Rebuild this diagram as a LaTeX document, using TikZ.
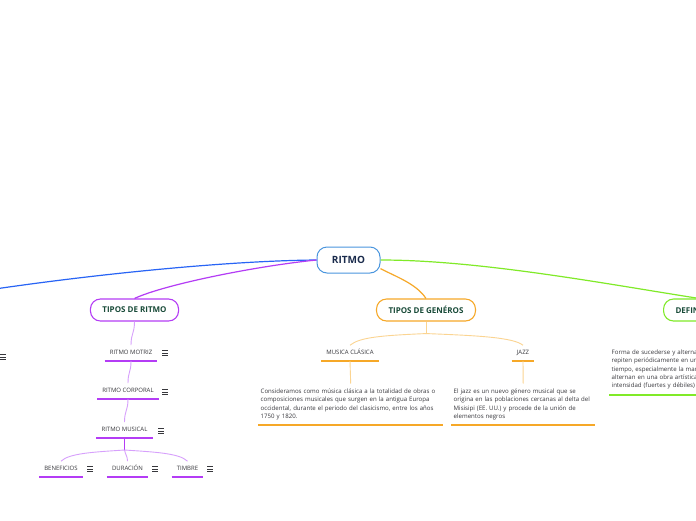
\documentclass[tikz,border=0pt]{standalone}
\usepackage{fontspec}
\setmainfont{Open Sans}
\usetikzlibrary{positioning}
\definecolor{navy}{RGB}{26,43,76}
\definecolor{rootblue}{RGB}{74,150,222}
\definecolor{linkblue}{RGB}{40,100,245}
\definecolor{violet}{RGB}{180,60,245}
\definecolor{lightviolet}{RGB}{215,160,252}
\definecolor{amber}{RGB}{246,168,40}
\definecolor{lightamber}{RGB}{251,212,145}
\definecolor{lime}{RGB}{128,234,40}
\definecolor{pine}{RGB}{24,74,56}
\definecolor{inkgray}{RGB}{55,55,60}
\tikzset{
  root/.style={draw=rootblue,line width=1pt,rounded corners=10pt,fill=white,minimum width=63pt,minimum height=26pt,font=\fontsize{10}{12}\selectfont\bfseries,text=navy},
  topic/.style={line width=1.1pt,rounded corners=10pt,fill=white,minimum height=22pt,inner xsep=12pt,font=\fontsize{8}{9.6}\selectfont\bfseries,text=pine},
  sub/.style={anchor=south,inner xsep=5pt,inner ysep=5pt,text height=4.4pt,text depth=1pt,font=\fontsize{6}{7.2}\selectfont,text=inkgray},
  note/.style={anchor=north west,align=left,inner xsep=2.5pt,inner ysep=5pt,font=\fontsize{6.1}{8.4}\selectfont,text=inkgray},
  uline/.style={line width=2pt},
  mainlink/.style={line width=1.2pt},
  sublink/.style={line width=0.9pt},
  menuic/.pic={\draw[inkgray,line width=0.9pt] (-3,-2.4) -- (3,-2.4) (-3,0) -- (3,0) (-3,2.4) -- (3,2.4);}
}
\begin{document}
\begin{tikzpicture}[x=1pt,y=-1pt]
\path[use as bounding box,fill=white] (0,0) rectangle (696,520);
\clip (0,0) rectangle (696,520);
\node[root] (ritmo) at (348.5,260) {RITMO};
\node[topic,draw=violet] (tritmo) at (134.5,310) {TIPOS DE RITMO};
\node[topic,draw=amber] (tgen) at (426,310) {TIPOS DE GENÉROS};
\node[topic,draw=lime,anchor=west] (defin) at (663,310) {DEFINICIÓN};
\coordinate (izq) at (-100,305);
\draw[mainlink,linkblue] (ritmo.west) .. controls +(-120,1) and +(100,-20) .. (izq);
\draw[mainlink,violet] (ritmo.west) .. controls +(-60,6) and +(30,-14) .. (tritmo.north);
\draw[mainlink,amber] (ritmo.-15) .. controls +(15,8) and +(-10,-15) .. (tgen.north);
\draw[mainlink,lime] (ritmo.east) .. controls +(100,0) and +(-90,-14) .. (defin.north);
\pic at (2.5,357) {menuic};
% tipos de ritmo
\node[sub] (motriz) at (131,361) {RITMO MOTRIZ};
\node[sub] (corporal) at (128,399) {RITMO CORPORAL};
\node[sub] (musical) at (124.5,438) {RITMO MUSICAL};
\node[sub] (benef) at (61,477) {BENEFICIOS};
\node[sub] (durac) at (127.5,477) {DURACIÓN};
\node[sub] (timbre) at (187.5,477) {TIMBRE};
\draw[uline,violet] (motriz.south west) -- (motriz.south east);
\draw[uline,violet] (corporal.south west) -- (corporal.south east);
\draw[uline,violet] (musical.south west) -- (musical.south east);
\draw[uline,violet] (benef.south west) -- (benef.south east);
\draw[uline,violet] (durac.south west) -- (durac.south east);
\draw[uline,violet] (timbre.south west) -- (timbre.south east);
\pic at (165,353) {menuic};
\pic at (165,392) {menuic};
\pic at (161,431) {menuic};
\pic at (90,469) {menuic};
\pic at (155,469) {menuic};
\pic at (210,469) {menuic};
\draw[sublink,lightviolet] (tritmo.south) .. controls +(0,12) and +(0,-12) .. (motriz.north);
\draw[sublink,lightviolet] (motriz.south) .. controls +(0,12) and +(0,-12) .. (corporal.north);
\draw[sublink,lightviolet] (corporal.south) .. controls +(0,12) and +(0,-12) .. (musical.north);
\draw[sublink,violet] (musical.south) -- ++(0,12) coordinate (mj);
\draw[sublink,lightviolet] (mj) .. controls +(-30,2) and +(8,-8) .. (benef.north);
\draw[sublink,lightviolet] (mj) .. controls +(1,5) and +(0,-5) .. (durac.north);
\draw[sublink,lightviolet] (mj) .. controls +(30,2) and +(-8,-8) .. (timbre.north);
% tipos de generos
\node[sub] (clasica) at (350,361) {MUSICA CLÁSICA};
\node[sub] (jazz) at (523,361) {JAZZ};
\draw[uline,amber] (clasica.south west) -- (clasica.south east);
\draw[uline,amber] (jazz.south west) -- (jazz.south east);
\draw[sublink,lightamber] (tgen.south) -- ++(0,12) coordinate (gj);
\draw[sublink,lightamber] (gj) .. controls +(-45,2) and +(10,-8) .. (clasica.north);
\draw[sublink,lightamber] (gj) .. controls +(50,2) and +(-10,-8) .. (jazz.north);
\node[note,text width=180pt] (clasnota) at (258,383.5) {Consideramos como música clásica a la totalidad de obras o\\composiciones musicales que surgen en la antigua Europa\\occidental, durante el periodo del clasicismo, entre los años\\1750 y 1820.};
\node[note,text width=139pt] (jazznota) at (451,383.5) {El jazz es un nuevo género musical que se\\origina en las poblaciones cercanas al delta del\\Misisipi (EE. UU.) y procede de la unión de\\elementos negros};
\draw[uline,amber] (clasnota.south west) -- (clasnota.south east);
\draw[uline,amber] (jazznota.south west) -- (jazznota.south east);
\draw[sublink,lightamber] (clasica.south) -- (clasnota.north);
\draw[sublink,lightamber] (jazz.south) -- (jazznota.north);
% definicion
\node[note,text width=200pt] (defnota) at (609,344.5) {Forma de sucederse y alternarse los sonidos que se\\repiten periódicamente en un determinado\\tiempo, especialmente la manera en que se\\alternan en una obra artística los de distinta\\intensidad (fuertes y débiles) o duración};
\draw[uline,lime] (defnota.south west) -- (defnota.south east);
\end{tikzpicture}
\end{document}
